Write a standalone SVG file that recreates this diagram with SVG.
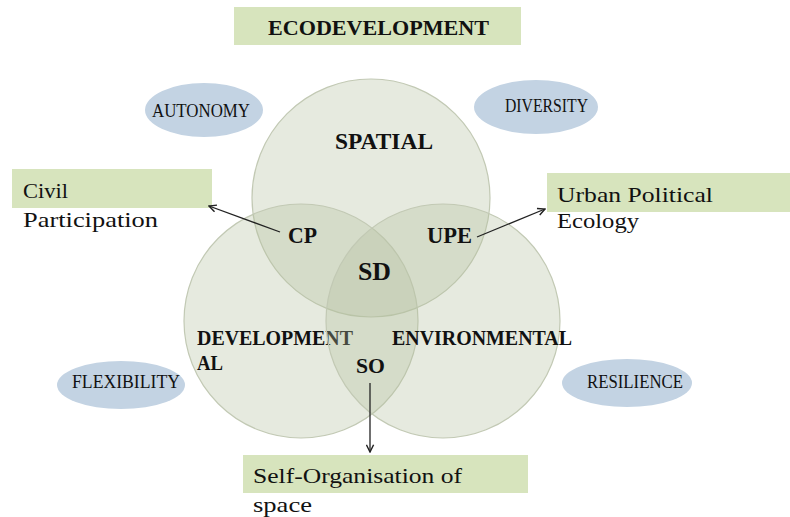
<svg xmlns="http://www.w3.org/2000/svg" width="790" height="517" viewBox="0 0 790 517">
  <defs>
    <style>
      .box { fill: #d7e4bd; }
      .trait { fill: #c3d3e3; }
      .set { fill: #b4bf9e; fill-opacity: 0.33; stroke: #c2c9b4; stroke-width: 1.2; }
      .serif { font-family: "Liberation Serif", "DejaVu Serif", serif; fill: #111; }
      .bold { font-weight: bold; }
      .conn { stroke: #222; stroke-width: 1.3; fill: none; marker-end: url(#arrow); }
    </style>
    <marker id="arrow" viewBox="0 0 10 10" refX="9" refY="5" markerWidth="9" markerHeight="9" markerUnits="userSpaceOnUse" orient="auto">
      <path d="M1,1 L9,5 L1,9" fill="none" stroke="#222" stroke-width="1.6"/>
    </marker>
  </defs>

  <rect width="790" height="517" fill="#ffffff"/>

  <!-- Title -->
  <g id="title">
    <rect class="box" x="234" y="7" width="287" height="38"/>
    <text class="serif bold" x="268" y="35" font-size="22" textLength="221" lengthAdjust="spacingAndGlyphs">ECODEVELOPMENT</text>
  </g>

  <!-- Trait ellipses -->
  <g id="autonomy">
    <ellipse class="trait" cx="204" cy="110" rx="59" ry="27"/>
    <text class="serif" x="152" y="117" font-size="18" textLength="98" lengthAdjust="spacingAndGlyphs">AUTONOMY</text>
  </g>
  <g id="diversity">
    <ellipse class="trait" cx="536" cy="107" rx="62" ry="27"/>
    <text class="serif" x="505" y="112" font-size="18" textLength="83" lengthAdjust="spacingAndGlyphs">DIVERSITY</text>
  </g>
  <g id="flexibility">
    <ellipse class="trait" cx="121" cy="385" rx="64" ry="24"/>
    <text class="serif" x="72" y="388" font-size="18" textLength="108" lengthAdjust="spacingAndGlyphs">FLEXIBILITY</text>
  </g>
  <g id="resilience">
    <ellipse class="trait" cx="627" cy="383" rx="65" ry="24"/>
    <text class="serif" x="587" y="388" font-size="18" textLength="96" lengthAdjust="spacingAndGlyphs">RESILIENCE</text>
  </g>

  <!-- Venn sets -->
  <g id="spatial">
    <circle class="set" cx="371" cy="198" r="119"/>
    <text class="serif bold" x="335" y="149" font-size="23" textLength="98" lengthAdjust="spacingAndGlyphs">SPATIAL</text>
  </g>
  <g id="developmental">
    <circle class="set" cx="301" cy="321" r="117"/>
    <text class="serif bold" x="197" y="345" font-size="20" textLength="156" lengthAdjust="spacingAndGlyphs">DEVELOPMENT</text>
    <text class="serif bold" x="197" y="370" font-size="20" textLength="26" lengthAdjust="spacingAndGlyphs">AL</text>
  </g>
  <g id="environmental">
    <circle class="set" cx="443" cy="321" r="117"/>
    <text class="serif bold" x="392" y="345" font-size="20" textLength="180" lengthAdjust="spacingAndGlyphs">ENVIRONMENTAL</text>
  </g>

  <!-- Intersection labels -->
  <g id="cp"><text class="serif bold" x="288" y="243" font-size="24" textLength="29" lengthAdjust="spacingAndGlyphs">CP</text></g>
  <g id="upe"><text class="serif bold" x="427" y="243" font-size="24" textLength="45" lengthAdjust="spacingAndGlyphs">UPE</text></g>
  <g id="sd"><text class="serif bold" x="358" y="280" font-size="25" textLength="33" lengthAdjust="spacingAndGlyphs">SD</text></g>
  <g id="so"><text class="serif bold" x="356" y="373" font-size="22" textLength="29" lengthAdjust="spacingAndGlyphs">SO</text></g>

  <!-- Outcome boxes -->
  <g id="civil-participation">
    <rect class="box" x="12" y="169" width="200" height="39"/>
    <text class="serif" x="23" y="198" font-size="22" textLength="45" lengthAdjust="spacingAndGlyphs">Civil</text>
    <text class="serif" x="23" y="227" font-size="22" textLength="135" lengthAdjust="spacingAndGlyphs">Participation</text>
  </g>
  <g id="urban-political-ecology">
    <rect class="box" x="547" y="173" width="243" height="39"/>
    <text class="serif" x="557" y="202" font-size="22" textLength="156" lengthAdjust="spacingAndGlyphs">Urban Political</text>
    <text class="serif" x="557" y="228" font-size="22" textLength="82" lengthAdjust="spacingAndGlyphs">Ecology</text>
  </g>
  <g id="self-organisation">
    <rect class="box" x="243" y="455" width="285" height="38"/>
    <text class="serif" x="253" y="483" font-size="22" textLength="209" lengthAdjust="spacingAndGlyphs">Self-Organisation of</text>
    <text class="serif" x="253" y="512" font-size="22" textLength="59" lengthAdjust="spacingAndGlyphs">space</text>
  </g>

  <!-- Connectors -->
  <g id="connectors">
    <line class="conn" x1="280" y1="232" x2="209" y2="206"/>
    <line class="conn" x1="477" y1="237" x2="545" y2="209"/>
    <line class="conn" x1="370" y1="383" x2="370" y2="452"/>
  </g>
</svg>
